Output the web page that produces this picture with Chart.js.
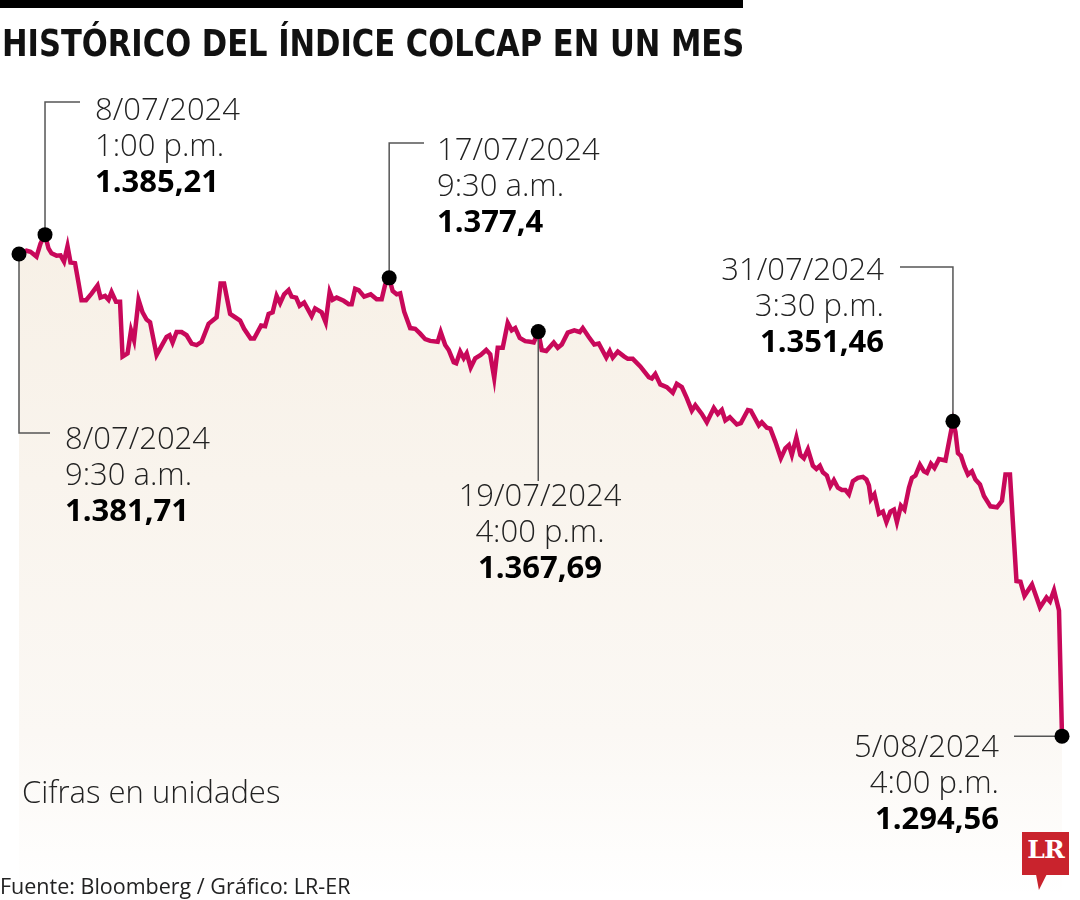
<!DOCTYPE html>
<html>
<head>
<meta charset="utf-8">
<script src="https://cdn.jsdelivr.net/npm/chart.js@4.4.1/dist/chart.umd.min.js"></script>
<style>
    html, body { margin: 0; padding: 0; background: #fff; }
    #wrap { position: relative; width: 1080px; height: 900px; overflow: hidden; font-family: "Open Sans", "Noto Sans", sans-serif; }
    #chart { position: absolute; left: 0; top: 0; }
    .bar { position: absolute; left: 0; top: 0; width: 743px; height: 8px; background: #000; }
    .title { position: absolute; left: 2px; top: 22px; font-family: "Liberation Sans Narrow", "DejaVu Sans Condensed", sans-serif; font-weight: bold; font-size: 37px; color: #111; white-space: nowrap; transform-origin: 0 0; }
    .note { position: absolute; font-size: 31px; line-height: 36px; font-weight: 300; color: #222; white-space: nowrap; }
    .note b { font-weight: 700; color: #000; }
    .units { position: absolute; left: 22px; top: 770px; font-size: 31px; font-weight: 300; color: #222; }
    .source { position: absolute; left: 0; top: 871px; font-size: 21.5px; color: #222; }
    .logo { position: absolute; left: 1022px; top: 832px; width: 47px; height: 58px; background: #c9232d;
            clip-path: polygon(0 0, 100% 0, 100% 74%, 52% 74%, 36% 100%, 30% 74%, 0 74%); }
    .logo span { position: absolute; left: 0; top: 3px; width: 47px; text-align: center; font-family: "DejaVu Serif", "Liberation Serif", serif; font-weight: bold; font-size: 25px; color: #fff; letter-spacing: -1px; }
</style>
</head>
<body>
<div id="wrap">
    <canvas id="chart" width="1080" height="900"></canvas>
    <div class="bar"></div>
    <div class="title" id="title">HISTÓRICO DEL ÍNDICE COLCAP EN UN MES</div>
    <div id="notes"></div>
    <div class="units">Cifras en unidades</div>
    <div class="source">Fuente: Bloomberg / Gráfico: LR-ER</div>
    <div class="logo"><span>LR</span></div>
</div>
<script>
// trading steps (half-hour slots) from 8/07/2024 9:30 a.m. to 5/08/2024 4:00 p.m.
const steps = [
    0,1.5,2.3,3.5,4.3,5.2,5.9,6.5,7.5,8.3,9.0,9.7,10.3,11.2,11.9,12.5,13.4,14.5,15.7,16.3,17.2,17.9,18.5,19.4,20.2,
    20.7,21.7,22.4,23.0,23.9,24.7,25.5,26.2,27.5,28.5,29.5,30.1,30.7,31.5,32.5,33.5,34.5,35.5,36.5,37.9,39.5,40.3,41.0,42.2,43.2,
    44.2,45.0,46.3,47.0,48.4,49.2,49.9,50.7,51.5,52.2,53.0,53.9,54.5,55.4,56.1,57.0,57.9,58.5,59.2,60.5,61.3,62.1,62.7,63.5,64.9,
    65.9,66.5,67.2,67.9,69.0,70.3,71.5,72.5,73.2,74.0,74.7,75.5,76.2,77.0,78.2,79.2,80.2,81.2,82.2,83.7,84.3,85.2,85.9,86.9,87.4,
    88.2,88.9,89.5,90.3,91.2,92.3,93.4,94.2,95.0,95.7,96.7,97.7,98.5,99.2,100.1,101.2,102.2,102.9,103.8,104.5,105.4,106.9,107.7,108.5,109.7,
    111.0,112.1,112.7,113.9,115.0,115.9,117.4,118.1,118.7,119.7,121.0,121.7,122.7,124.2,125.9,126.5,127.2,128.2,129.5,130.7,131.5,132.5,133.5,134.5,135.2,
    136.5,137.5,138.9,139.7,140.5,141.2,142.1,143.5,144.3,145.7,146.3,147.9,148.5,149.5,150.2,151.2,152.3,153.2,153.9,154.5,155.4,156.2,156.9,157.7,158.7,
    159.4,160.1,160.7,161.5,162.2,162.9,163.7,164.5,165.2,165.9,166.7,167.7,168.7,169.4,169.9,170.3,171.0,171.9,172.7,173.4,174.2,174.9,175.5,176.3,177.0,
    177.9,178.5,179.2,180.1,180.9,181.5,182.3,183.0,183.9,185.2,186.1,186.7,187.2,187.7,188.3,189.0,189.7,190.5,191.2,192.1,192.9,194.2,195.5,196.5,197.2,
    198.1,199.4,200.2,201.0,202.5,204.1,205.4,206.1,206.9,207.9,208.5
];

const colcap = [
    1381.71,1382.31,1382.13,1381.25,1383.61,1385.21,1382.72,1381.83,1381.42,1381.48,1380.36,1383.13,1380.18,1380.06,1376.50,1373.35,1373.35,1374.55,1376.02,1373.83,1374.14,1373.43,1374.85,1373.07,1373.07,
    1363.17,1363.76,1367.91,1366.14,1373.43,1371.17,1369.87,1369.39,1363.47,1365.12,1366.72,1367.03,1365.71,1367.61,1367.61,1367.03,1365.53,1365.25,1365.84,1369.09,1370.28,1376.38,1376.38,1370.87,1370.28,
    1369.69,1368.20,1366.42,1366.42,1368.80,1368.68,1370.87,1371.17,1374.14,1372.82,1374.42,1375.20,1374.01,1373.83,1372.36,1372.95,1371.47,1370.46,1371.88,1371.17,1369.39,1374.85,1373.43,1373.83,1373.25,
    1372.64,1372.64,1375.43,1375.20,1374.01,1374.42,1373.53,1373.53,1376.20,1377.40,1375.02,1374.42,1374.60,1371.29,1368.32,1368.20,1367.31,1366.32,1366.01,1365.84,1367.61,1365.25,1364.36,1362.16,1361.98,
    1364.06,1362.87,1363.76,1361.21,1362.87,1363.47,1364.36,1363.58,1359.31,1364.77,1364.77,1369.27,1367.91,1368.32,1366.55,1365.96,1365.84,1365.71,1367.69,1364.36,1364.18,1365.71,1364.77,1365.35,1367.49,
    1367.91,1367.61,1368.32,1366.72,1365.35,1365.53,1362.99,1364.18,1362.99,1364.06,1363.17,1362.76,1362.76,1361.39,1359.44,1359.21,1360.02,1358.14,1357.66,1356.65,1358.25,1357.66,1355.65,1353.39,1354.37,
    1352.81,1351.31,1353.87,1352.81,1353.52,1351.62,1352.20,1350.90,1351.14,1353.52,1353.39,1350.73,1351.31,1350.32,1350.14,1347.76,1344.81,1346.59,1347.17,1345.39,1348.54,1345.39,1344.81,1346.41,1343.44,
    1342.85,1343.44,1342.25,1341.66,1339.76,1340.83,1339.47,1339.05,1339.05,1338.28,1340.65,1341.25,1341.43,1340.95,1339.88,1337.40,1338.28,1334.73,1335.14,1333.25,1335.14,1335.49,1333.25,1336.20,1335.49,
    1339.47,1341.25,1341.66,1343.62,1342.43,1342.14,1343.79,1343.03,1344.63,1344.38,1348.65,1351.46,1349.54,1345.70,1345.22,1343.31,1341.84,1342.43,1340.95,1340.06,1337.98,1336.10,1335.92,1337.09,1341.84,
    1341.84,1322.59,1322.46,1319.92,1321.98,1317.84,1319.62,1318.91,1320.92,1317.26,1294.56
];

// highlighted points
const markSteps = [0, 5.2, 74.0, 103.8, 186.7, 208.5];
const markValues = [1381.71, 1385.21, 1377.4, 1367.69, 1351.46, 1294.56];
const markDates = ['8/07/2024', '8/07/2024', '17/07/2024', '19/07/2024', '31/07/2024', '5/08/2024'];
const markTimes = ['9:30 a.m.', '1:00 p.m.', '9:30 a.m.', '4:00 p.m.', '3:30 p.m.', '4:00 p.m.'];
const markLabels = ['1.381,71', '1.385,21', '1.377,4', '1.367,69', '1.351,46', '1.294,56'];

// where each note sits, and the elbow of its leader line
const noteBoxes = [
    { left: 65, top: 419, align: 'left', path: [[null, 433], [50, 433]] },
    { left: 95, top: 90, align: 'left', path: [[null, 102], [80, 102]] },
    { left: 437, top: 130, align: 'left', path: [[null, 143], [424, 143]] },
    { left: 540, top: 476, align: 'center', path: [[null, 481]] },
    { left: 884, top: 250, align: 'right', path: [[null, 267], [900, 267]] },
    { left: 999, top: 727, align: 'right', path: [[1014, null]] }
];

// squeeze the title to the width of the black bar
const title = document.getElementById('title');
title.style.transform = 'scaleX(' + (742 / title.offsetWidth) + ')';

const notes = document.getElementById('notes');
noteBoxes.forEach((box, i) => {
    const div = document.createElement('div');
    div.className = 'note';
    div.style.top = box.top + 'px';
    div.style.textAlign = box.align;
    if (box.align === 'left') div.style.left = box.left + 'px';
    else if (box.align === 'right') div.style.right = (1080 - box.left) + 'px';
    else { div.style.left = (box.left - 150) + 'px'; div.style.width = '300px'; }
    div.innerHTML = markDates[i] + '<br>' + markTimes[i] + '<br><b>' + markLabels[i] + '</b>';
    notes.appendChild(div);
});

const leaders = {
    id: 'leaders',
    afterDatasetDraw(chart, args) {
        if (args.index !== 1) return;
        const ctx = chart.ctx;
        const xs = chart.scales.x, ys = chart.scales.y;
        ctx.save();
        ctx.strokeStyle = '#555';
        ctx.lineWidth = 1.5;
        noteBoxes.forEach((box, i) => {
            const px = xs.getPixelForValue(markSteps[i]);
            const py = ys.getPixelForValue(markValues[i]);
            ctx.beginPath();
            ctx.moveTo(px, py);
            box.path.forEach(p => ctx.lineTo(p[0] === null ? px : p[0], p[1] === null ? py : p[1]));
            ctx.stroke();
        });
        ctx.restore();
    }
};

const ctx = document.getElementById('chart').getContext('2d');
new Chart(ctx, {
    type: 'line',
    data: {
        datasets: [{
            label: 'Marcas',
            data: markSteps.map((s, i) => ({ x: s, y: markValues[i] })),
            showLine: false,
            pointRadius: 7.5,
            pointBackgroundColor: '#000',
            pointBorderWidth: 0,
            clip: false,
            order: 0
        }, {
            label: 'COLCAP',
            data: steps.map((s, i) => ({ x: s, y: colcap[i] })),
            borderColor: '#c8085a',
            borderWidth: 4.5,
            borderJoinStyle: 'miter',
            pointRadius: 0,
            tension: 0,
            clip: false,
            fill: 'start',
            backgroundColor: function(context) {
                const area = context.chart.chartArea;
                if (!area) return '#f7f1e9';
                const g = context.chart.ctx.createLinearGradient(0, 230, 0, 900);
                g.addColorStop(0, '#f7f0e6');
                g.addColorStop(0.75, '#fbf8f4');
                g.addColorStop(1, '#ffffff');
                return g;
            },
            order: 1
        }]
    },
    options: {
        responsive: false,
        animation: false,
        devicePixelRatio: 1,
        layout: { padding: { left: 19, right: 18, top: 0, bottom: 0 } },
        plugins: { legend: { display: false }, tooltip: { enabled: false } },
        scales: {
            x: { type: 'linear', display: false, min: 0, max: 208.5 },
            y: { display: false, min: 1266.3, max: 1426.27 }
        }
    },
    plugins: [leaders]
});
</script>
</body>
</html>
